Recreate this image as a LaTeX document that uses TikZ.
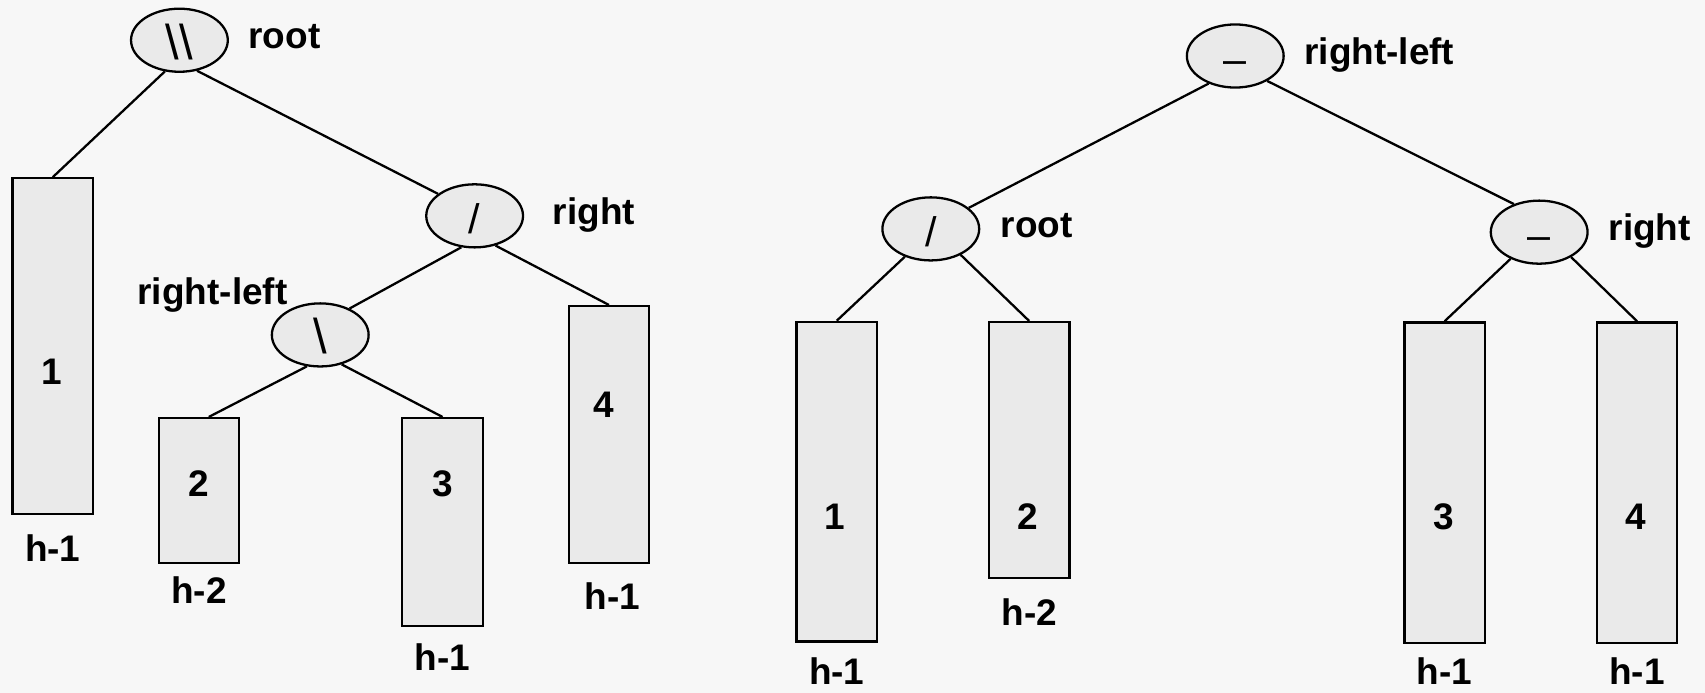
\documentclass[tikz,border=0pt]{standalone}
\usepackage{fontspec}
\setmainfont{Liberation Sans}
\usetikzlibrary{shapes.geometric}
\definecolor{paper}{HTML}{F7F7F7}
\definecolor{cell}{HTML}{EAEAEA}
\begin{document}
\begin{tikzpicture}[x=1pt, y=-1pt, line width=2.1pt,
  op/.style={ellipse, draw, fill=cell, minimum width=89pt, minimum height=58pt,
    inner sep=0pt, text height=32pt, text depth=0pt, font=\fontsize{38}{40}\selectfont},
  blk/.style={rectangle, draw, fill=cell, minimum width=74pt, inner sep=0pt},
  num/.style={inner sep=0pt, font=\fontsize{34}{40}\selectfont\bfseries},
  tag/.style={num, anchor=base west},
  ht/.style={num, anchor=base}]
  \path[use as bounding box, fill=paper] (0,0) rectangle (1568,637);

  % left tree
  \node[op, font=\fontsize{45}{48}\selectfont, text height=35pt] (root) at (165,37) {\textbackslash\textbackslash};
  \node[op] (rt) at (436.5,198.5) {/};
  \node[op, font=\fontsize{45}{48}\selectfont, text height=35pt] (rl) at (294.5,308) {\textbackslash};
  \node[tag] (troot) at (227.5,45) {root};
  \node[tag] (tright) at (507.5,206) {right};
  \node[tag] (trl) at (125.5,279.6) {right-left};

  \node[blk, minimum height=309pt] (b1) at (48.5,318.5) {};
  \node[blk, minimum height=133pt] (b2) at (183,451) {};
  \node[blk, minimum height=191pt] (b3) at (407,480) {};
  \node[blk, minimum height=236pt] (b4) at (560,399.5) {};
  \node[num] (n1) at (47.5,342) {1};
  \node[num] (n2) at (182.7,445) {2};
  \node[num] (n3) at (407,445) {3};
  \node[num] (n4) at (555,372.5) {4};
  \node[ht] (hb1) at ([yshift=-42pt]b1.south) {h-1};
  \node[ht] (hb2) at ([yshift=-36.5pt]b2.south) {h-2};
  \node[ht] (hb3) at ([yshift=-40pt]b3.south) {h-1};
  \node[ht] (hb4) at ([xshift=3pt,yshift=-42pt]b4.south) {h-1};

  \draw (root.-115) -- (b1.north);
  \draw (root.-60) -- (rt.149);
  \draw (rt.-113) -- (rl.42);
  \draw (rt.-55) -- (b4.north);
  \draw (rl.-113) -- ([xshift=9pt]b2.north);
  \draw (rl.-54) -- (b3.north);

  % right tree
  \node[op] (tp) at (1136,51.5) {--};
  \node[op] (rr) at (856,210.5) {/};
  \node[op] (rg) at (1415.5,213.5) {--};
  \node[tag] (ttp) at (1198.5,59) {right-left};
  \node[tag] (trr) at (919.5,218) {root};
  \node[tag] (trg) at (1478.3,221.3) {right};

  \node[blk, minimum height=294pt] (r1) at (769.5,443) {};
  \node[blk, minimum height=235.5pt] (r2) at (946.5,414) {};
  \node[blk, minimum height=295pt] (r3) at (1328.5,444) {};
  \node[blk, minimum height=295pt] (r4) at (1505.5,444) {};
  \node[num] (m1) at (768,475) {1};
  \node[num] (m2) at (945,475) {2};
  \node[num] (m3) at (1327.5,475) {3};
  \node[num] (m4) at (1504.5,475) {4};
  \node[ht] (hr1) at ([yshift=-38pt]r1.south) {h-1};
  \node[ht] (hr2) at ([yshift=-42pt]r2.south) {h-2};
  \node[ht] (hr3) at ([yshift=-37pt]r3.south) {h-1};
  \node[ht] (hr4) at ([yshift=-37pt]r4.south) {h-1};

  \draw (tp.-134.5) -- (rr.29);
  \draw (tp.-38) -- (rg.132.6);
  \draw (rr.-133) -- (r1.north);
  \draw (rr.-41) -- (r2.north);
  \draw (rg.-137.6) -- (r3.north);
  \draw (rg.-38) -- (r4.north);
\end{tikzpicture}
\end{document}
